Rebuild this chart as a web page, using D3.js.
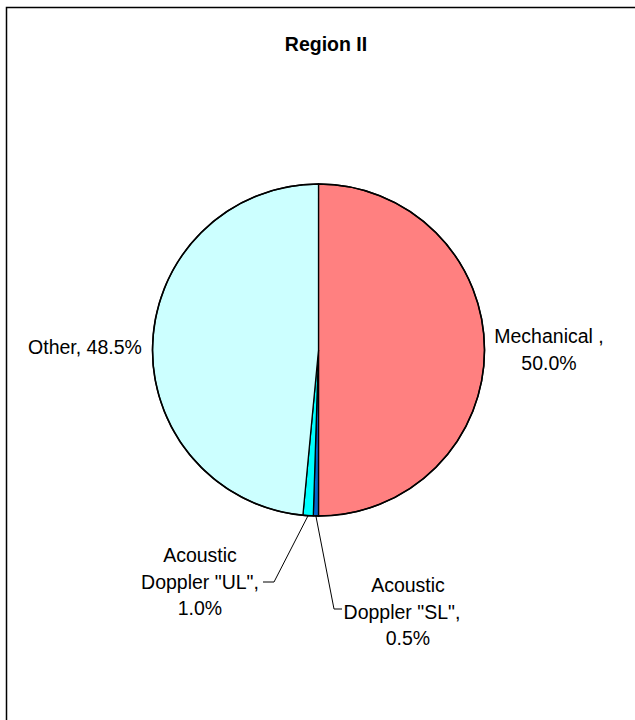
<!DOCTYPE html>
<meta charset="utf-8">
<head>
<style>
  body { margin: 0; background: #fff; }
  text { font-family: "Liberation Sans", Arial, sans-serif; fill: #000; }
</style>
</head>
<body>
<div id="chart"></div>
<script src="https://d3js.org/d3.v7.min.js"></script>
<script>
// data
var categories = ["Mechanical ", "Acoustic Doppler \"SL\"", "Acoustic Doppler \"UL\"", "Other"];
var shares = [50.0, 0.5, 1.0, 48.5];
var colors = ["#FF8080", "#0066CC", "#00FFFF", "#CCFFFF"];
// label lines for each slice
var labelLines = [
  ["Mechanical ,", "50.0%"],
  ["Acoustic", "Doppler \"SL\",", "0.5%"],
  ["Acoustic", "Doppler \"UL\",", "1.0%"],
  ["Other, 48.5%"]
];

var width = 635, height = 720;
var cx = 318.5, cy = 350, radius = 166;

var svg = d3.select("#chart").append("svg")
    .attr("width", width)
    .attr("height", height);

// chart frame (runs off the right and bottom)
svg.append("rect")
    .attr("x", 6.5).attr("y", 7.5)
    .attr("width", 700).attr("height", 800)
    .attr("fill", "none")
    .attr("stroke", "#000")
    .attr("stroke-width", 1.5);

svg.append("text")
    .attr("x", 326).attr("y", 51)
    .attr("text-anchor", "middle")
    .style("font-size", "19.5px")
    .style("font-weight", "bold")
    .text("Region II");

var pie = d3.pie().sort(null).value(function(d) { return d; });
var arcs = pie(shares);

var arc = d3.arc().innerRadius(0).outerRadius(radius);

var g = svg.append("g").attr("transform", "translate(" + cx + "," + cy + ")");

g.selectAll("path.slice")
  .data(arcs)
  .enter()
  .append("path")
    .attr("class", "slice")
    .attr("d", arc)
    .attr("fill", function(d, i) { return colors[i]; })
    .attr("stroke", "#000")
    .attr("stroke-width", 1.3);

g.append("circle")
    .attr("r", radius)
    .attr("fill", "none")
    .attr("stroke", "#000")
    .attr("stroke-width", 1.6);

// label placement: anchor x, first baseline, line gap
var labelPos = [
  {x: 549, y: 343, gap: 27},
  {x: 408, y: 592, gap: 26.5, shift: [0, -6, 0]},
  {x: 200, y: 562, gap: 26.5},
  {x: 85, y: 354, gap: 27}
];

// leader lines for the two small slices: [elbow point, end of tick]
var leaders = {
  1: [[334, 609], [342, 609]],
  2: [[274, 582], [263, 582]]
};

function edgePoint(d) {
  var a = (d.startAngle + d.endAngle) / 2;
  return [cx + radius * Math.sin(a), cy - radius * Math.cos(a)];
}

Object.keys(leaders).forEach(function(k) {
  var p0 = edgePoint(arcs[+k]);
  var pts = [p0].concat(leaders[k]);
  svg.append("path")
    .attr("d", d3.line()(pts))
    .attr("fill", "none")
    .attr("stroke", "#000")
    .attr("stroke-width", 1);
});

labelLines.forEach(function(lines, i) {
  var pos = labelPos[i];
  var t = svg.append("text")
    .attr("text-anchor", "middle")
    .style("font-size", "19.5px");
  lines.forEach(function(s, j) {
    t.append("tspan")
      .attr("x", pos.x + (pos.shift ? pos.shift[j] : 0))
      .attr("y", pos.y + j * pos.gap)
      .text(s);
  });
});
</script>
</body>
